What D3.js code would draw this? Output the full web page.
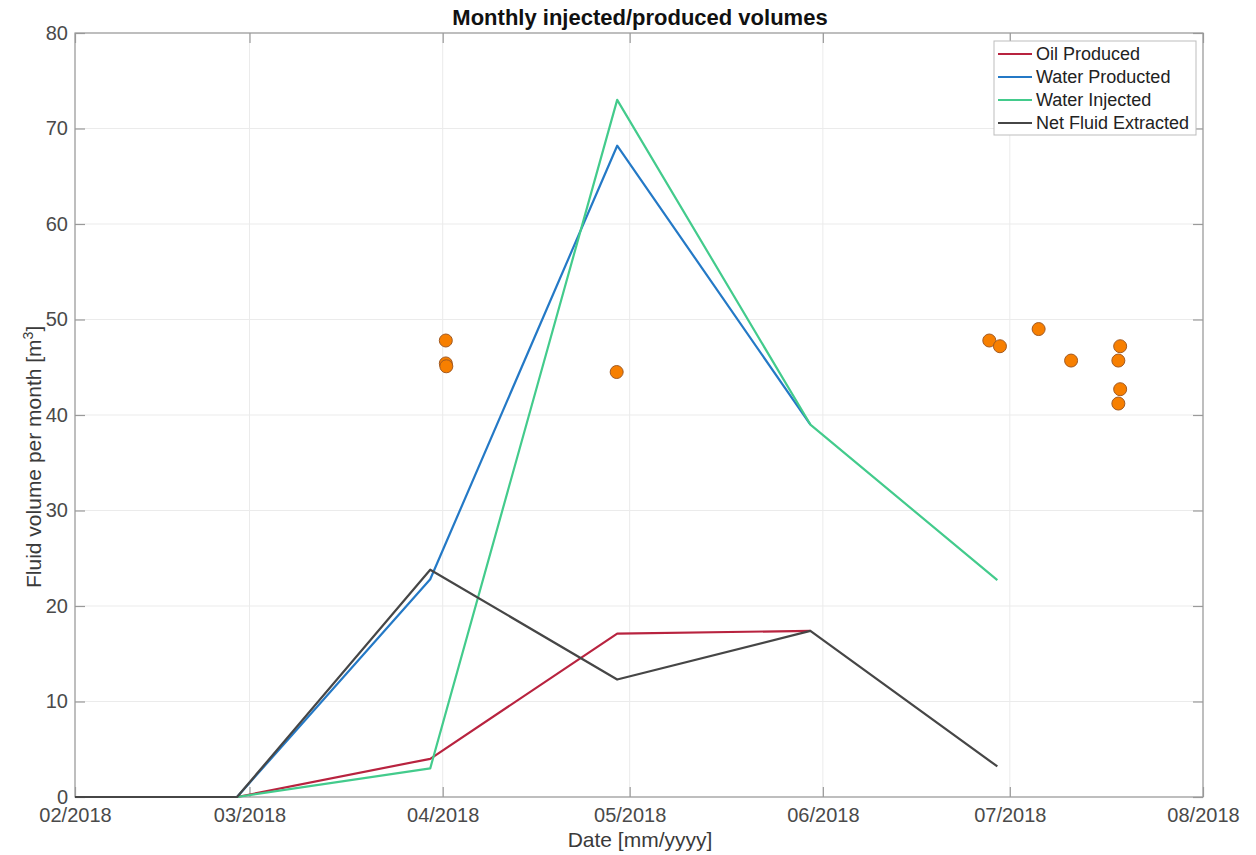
<!DOCTYPE html>
<html><head><meta charset="utf-8">
<script src="https://cdn.jsdelivr.net/npm/d3@7"></script>
<style>body{margin:0;background:#fff}svg{display:block}text{font-family:"Liberation Sans",Arial,sans-serif}</style>
</head><body>
<script>
// ---- data ----
const oilDates   = ["2018-02-01","2018-02-27","2018-03-30","2018-04-29","2018-05-30"];
const oilValues  = [0, 0, 4.0, 17.1, 17.4];
const wpDates    = ["2018-02-01","2018-02-27","2018-03-30","2018-04-29","2018-05-30"];
const wpValues   = [0, 0, 22.8, 68.2, 39.0];
const wiDates    = ["2018-02-01","2018-02-27","2018-03-30","2018-04-29","2018-05-30","2018-06-29"];
const wiValues   = [0, 0, 3.0, 73.0, 39.0, 22.7];
const netDates   = ["2018-02-01","2018-02-27","2018-03-30","2018-04-29","2018-05-30","2018-06-29"];
const netValues  = [0, 0, 23.8, 12.3, 17.4, 3.2];
const ptDates    = ["2018-04-01T12:00","2018-04-01T12:00","2018-04-01T14:00","2018-04-28T22:00","2018-06-27T17:00","2018-06-29T10:00","2018-07-05T15:00","2018-07-10T20:00","2018-07-18T17:00","2018-07-18T10:00","2018-07-18T17:00","2018-07-18T10:00"];
const ptValues   = [47.8, 45.4, 45.1, 44.5, 47.8, 47.2, 49.0, 45.7, 47.2, 45.7, 42.7, 41.2];
const xTickDates = ["2018-02-01","2018-03-01","2018-04-01","2018-05-01","2018-06-01","2018-07-01","2018-08-01"];
const yTicks     = [0,10,20,30,40,50,60,70,80];
const seriesNames = ["Oil Produced","Water Producted","Water Injected","Net Fluid Extracted"];
const seriesColors = ["#b8233f","#2479c6","#43cb8c","#464646"];

const W = 1256, H = 855;
const m = {l:75, r:53, t:33, b:58};
const parse = d3.isoParse;
const svg = d3.select("body").append("svg").attr("width",W).attr("height",H);

const x = d3.scaleTime().domain([parse("2018-02-01"), parse("2018-08-01")]).range([m.l, W-m.r]);
const y = d3.scaleLinear().domain([0,80]).range([H-m.b, m.t]);
const fmt = d3.timeFormat("%m/%Y");

// grid
const g = svg.append("g");
g.selectAll(".gx").data(xTickDates).join("line")
  .attr("x1",d=>x(parse(d))).attr("x2",d=>x(parse(d))).attr("y1",m.t).attr("y2",H-m.b)
  .attr("stroke","#ebebeb").attr("stroke-width",1);
g.selectAll(".gy").data(yTicks).join("line")
  .attr("y1",d=>y(d)).attr("y2",d=>y(d)).attr("x1",m.l).attr("x2",W-m.r)
  .attr("stroke","#ebebeb").attr("stroke-width",1);

// axes (inward ticks, all four sides)
const axCol = "#9a9a9a";
const tickLen = 10;
function styleAxis(sel){
  sel.select(".domain").remove();
  sel.selectAll(".tick line").attr("stroke",axCol).attr("stroke-width",1.2);
  sel.selectAll(".tick text").attr("fill","#4a4a4a").style("font-size","20px");
}
const xb = svg.append("g").attr("transform",`translate(0,${H-m.b})`)
  .call(d3.axisBottom(x).tickValues(xTickDates.map(parse)).tickFormat(fmt).tickSizeInner(-tickLen).tickSizeOuter(0).tickPadding(11));
styleAxis(xb);
const xt = svg.append("g").attr("transform",`translate(0,${m.t})`)
  .call(d3.axisTop(x).tickValues(xTickDates.map(parse)).tickFormat("").tickSizeInner(-tickLen).tickSizeOuter(0));
styleAxis(xt);
const yl = svg.append("g").attr("transform",`translate(${m.l},0)`)
  .call(d3.axisLeft(y).tickValues(yTicks).tickSizeInner(-tickLen).tickSizeOuter(0).tickPadding(7));
styleAxis(yl);
const yr = svg.append("g").attr("transform",`translate(${W-m.r},0)`)
  .call(d3.axisRight(y).tickValues(yTicks).tickFormat("").tickSizeInner(-tickLen).tickSizeOuter(0));
styleAxis(yr);
svg.append("rect").attr("x",m.l).attr("y",m.t).attr("width",W-m.l-m.r).attr("height",H-m.t-m.b)
  .attr("fill","none").attr("stroke",axCol).attr("stroke-width",1.2);

// lines
const series = [
  {d:oilDates, v:oilValues},
  {d:wpDates, v:wpValues},
  {d:wiDates, v:wiValues},
  {d:netDates, v:netValues}
];
const line = d3.line().x(p=>x(p[0])).y(p=>y(p[1]));
series.forEach((s,i)=>{
  const pts = s.d.map((d,j)=>[parse(d), s.v[j]]);
  svg.append("path").attr("d",line(pts)).attr("fill","none")
    .attr("stroke",seriesColors[i]).attr("stroke-width",2.2).attr("stroke-linejoin","round");
});

// points
svg.selectAll(".pt").data(ptDates.map((d,i)=>[parse(d),ptValues[i]])).join("circle")
  .attr("cx",d=>x(d[0])).attr("cy",d=>y(d[1])).attr("r",6.5)
  .attr("fill","#f77f00").attr("stroke","#a25a22").attr("stroke-width",1);

// title & labels
svg.append("text").attr("x",640).attr("y",25).attr("text-anchor","middle")
  .style("font-size","22px").style("font-weight","bold").attr("fill","#111").text("Monthly injected/produced volumes");
svg.append("text").attr("x",640).attr("y",847).attr("text-anchor","middle")
  .style("font-size","21px").attr("fill","#3a3a3a").text("Date [mm/yyyy]");
const ylab = svg.append("text").attr("transform",`translate(41,588) rotate(-90)`)
  .attr("text-anchor","start").style("font-size","21px").attr("fill","#3a3a3a");
ylab.append("tspan").text("Fluid volume per month [m");
ylab.append("tspan").attr("dy",-8).style("font-size","14px").text("3");
ylab.append("tspan").attr("dy",8).text("]");

// legend
const lg = svg.append("g");
lg.append("rect").attr("x",994).attr("y",41).attr("width",202).attr("height",94)
  .attr("fill","#fff").attr("stroke","#bdbdbd").attr("stroke-width",1);
seriesNames.forEach((n,i)=>{
  const yy = 54 + i*23;
  lg.append("line").attr("x1",998).attr("x2",1032).attr("y1",yy).attr("y2",yy)
    .attr("stroke",seriesColors[i]).attr("stroke-width",2.2);
  lg.append("text").attr("x",1036).attr("y",yy+6).style("font-size","18px").attr("fill","#222").text(n);
});
</script>
</body></html>
